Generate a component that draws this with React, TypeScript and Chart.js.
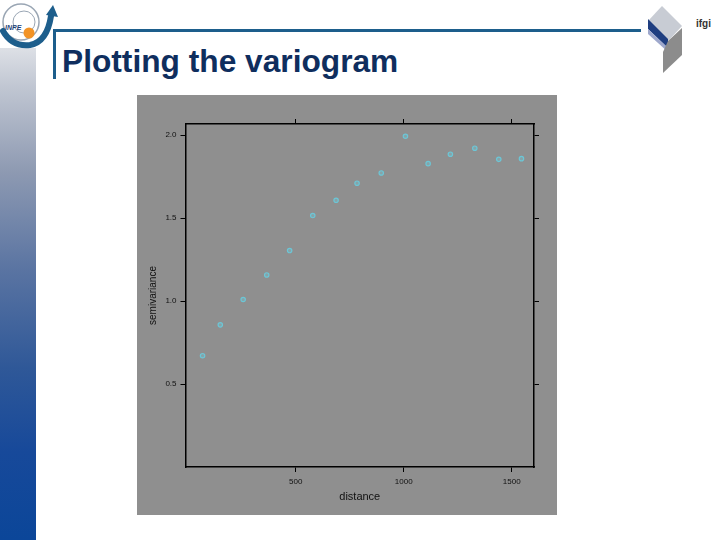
import React, { useEffect, useRef } from "react";
import { Chart, registerables } from "chart.js";

Chart.register(...registerables);

const distance = [69, 151, 257, 366, 472, 579, 687, 784, 896, 1008, 1113, 1216, 1329, 1440, 1545];
const gamma = [0.671, 0.857, 1.01, 1.158, 1.305, 1.516, 1.608, 1.711, 1.773, 1.994, 1.829, 1.886, 1.922, 1.855, 1.859];
const xTicks = [500, 1000, 1500];
const yTicks = [0.5, 1.0, 1.5, 2.0];
const xRange = [-10, 1603];
const yRange = [0, 2.068];

const FONT = "'Liberation Sans', Arial, sans-serif";

function axisCommon(extra: any) {
  return {
    type: "linear",
    border: { display: true, color: "#000", width: 1.5 },
    grid: { display: true, drawOnChartArea: false, drawTicks: true, tickLength: 5, color: "#000", lineWidth: 1 },
    ...extra,
  };
}

function SlideChart() {
  const ref = useRef<HTMLCanvasElement>(null);
  useEffect(() => {
    if (!ref.current) return;
    const bg = {
      id: "bg",
      beforeDraw(c: any) {
        const ctx = c.ctx;
        ctx.save();
        ctx.fillStyle = "#8f8f8f";
        ctx.fillRect(0, 0, c.width, c.height);
        ctx.restore();
      },
    };
    const setX = (s: any) => { s.ticks = xTicks.map((v) => ({ value: v })); };
    const setY = (s: any) => { s.ticks = yTicks.map((v) => ({ value: v })); };
    const chart = new Chart(ref.current, {
      type: "scatter",
      data: {
        datasets: [
          {
            data: distance.map((d, i) => ({ x: d, y: gamma[i] })),
            pointStyle: "circle",
            pointRadius: 2.2,
            pointBorderWidth: 1.2,
            pointBorderColor: "#6cc6d6",
            pointBackgroundColor: "rgba(120,200,215,0.35)",
          },
        ],
      },
      options: {
        animation: false,
        responsive: false,
        layout: { padding: 0 },
        plugins: { legend: { display: false }, tooltip: { enabled: false } },
        scales: {
          x: axisCommon({
            position: "bottom",
            min: xRange[0],
            max: xRange[1],
            afterBuildTicks: setX,
            afterFit: (s: any) => { s.height = 48; },
            ticks: { color: "#111", font: { family: FONT, size: 8 }, padding: 5, maxRotation: 0, callback: (v: any) => String(v) },
            title: { display: true, text: "distance", color: "#111", font: { family: FONT, size: 11 }, padding: { top: 0, bottom: 11 } },
          }),
          xTop: axisCommon({
            position: "top",
            min: xRange[0],
            max: xRange[1],
            afterBuildTicks: setX,
            afterFit: (s: any) => { s.height = 29; },
            ticks: { display: false },
          }),
          y: axisCommon({
            position: "left",
            min: yRange[0],
            max: yRange[1],
            afterBuildTicks: setY,
            afterFit: (s: any) => { s.width = 48.5; },
            ticks: { color: "#111", font: { family: FONT, size: 8 }, padding: 4, callback: (v: any) => Number(v).toFixed(1) },
            title: { display: true, text: "semivariance", color: "#111", font: { family: FONT, size: 10 }, padding: { top: 10, bottom: 0 } },
          }),
          yRight: axisCommon({
            position: "right",
            min: yRange[0],
            max: yRange[1],
            afterBuildTicks: setY,
            afterFit: (s: any) => { s.width = 23; },
            ticks: { display: false },
          }),
        },
      } as any,
      plugins: [bg],
    });
    return () => chart.destroy();
  }, []);
  return (
    <canvas
      ref={ref}
      width={420}
      height={420}
      style={{ position: "absolute", left: 137, top: 95, width: 420, height: 420 }}
    />
  );
}

export default function App() {
  return (
    <div style={{ position: "fixed", left: 0, top: 0, width: 720, height: 540, background: "#fff", overflow: "hidden" }}>
      {/* left gradient bar */}
      <div
        style={{
          position: "absolute",
          left: 0,
          top: 48,
          width: 36,
          height: 492,
          background: "linear-gradient(to bottom, #dde0e6 0%, #c0c6d2 8%, #8e9ab2 25%, #5a74a2 45%, #2f5898 65%, #17499a 82%, #0b4699 100%)",
        }}
      />
      {/* decorations */}
      <svg width={720} height={90} style={{ position: "absolute", left: 0, top: 0 }}>
        <rect x={53} y={29} width={588} height={3} fill="#1d5e8c" />
        <rect x={53} y={29} width={3} height={50} fill="#1d5e8c" />
        {/* INPE logo */}
        <circle cx={21} cy={22} r={18} fill="none" stroke="#9aa6b4" strokeWidth={1.5} />
        <circle cx={24} cy={22} r={11} fill="none" stroke="#9aa6b4" strokeWidth={1} />
        <path d="M3 31 Q12 47 30 45 Q47 42 51 16" fill="none" stroke="#1d5e8c" strokeWidth={6} strokeLinecap="round" />
        <polygon points="46,15 53,5 58,17" fill="#1d5e8c" />
        <circle cx={29} cy={33} r={5.5} fill="#f29326" />
        <text x={5} y={30} fontFamily={FONT} fontSize={7} fontWeight="bold" fontStyle="italic" fill="#1d3f78">INPE</text>
        {/* ifgi logo */}
        <polygon points="662,6 682,26 668,41 648,21" fill="#c8ccd4" />
        <polygon points="648,19 668,39 668,48 648,29" fill="#1f3e80" />
        <polygon points="648,29 668,48 668,52 648,34" fill="#9ea8cc" />
        <polygon points="668,41 682,28 682,55 663,73 663,52" fill="#8c8c8c" />
        <text x={696} y={27} fontFamily={FONT} fontSize={10} fontWeight="bold" fill="#333">ifgi</text>
      </svg>
      <div
        style={{
          position: "absolute",
          left: 62,
          top: 42,
          fontFamily: FONT,
          fontWeight: "bold",
          fontSize: 31.7,
          lineHeight: "38px",
          color: "#0f2e5e",
          whiteSpace: "nowrap",
        }}
      >
        Plotting the variogram
      </div>
      <SlideChart />
    </div>
  );
}
